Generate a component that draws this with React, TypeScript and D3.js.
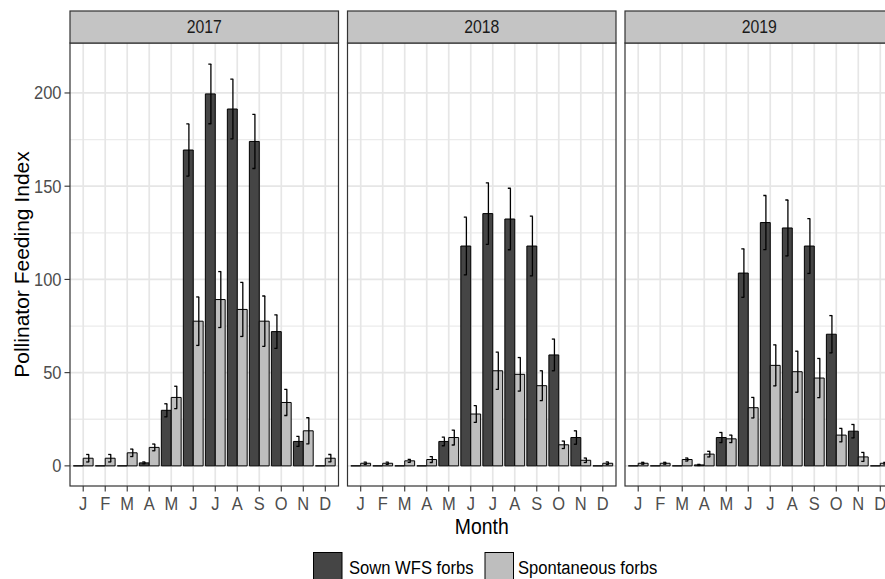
import React from "react";
import * as d3 from "d3";

const months = ["J", "F", "M", "A", "M", "J", "J", "A", "S", "O", "N", "D"];
const years = ["2017", "2018", "2019"];
const seriesNames = ["Sown WFS forbs", "Spontaneous forbs"];
const yTicks = [0, 50, 100, 150, 200];
const yMinor = [25, 75, 125, 175];

const sown2017 = [0, 0, 0, 1.6, 29.8, 169.4, 199.5, 191.4, 174, 72, 13.1, 0];
const sownSe2017 = [0, 0, 0, 0.5, 3.5, 14, 16, 16, 14.5, 9, 2.7, 0];
const spont2017 = [4.1, 4.1, 7, 9.9, 36.7, 77.6, 89.2, 83.9, 77.6, 34, 18.8, 4.1];
const spontSe2017 = [2, 2, 2, 1.8, 6, 13, 15, 14.5, 13.5, 7, 7, 2];

const sown2018 = [0, 0, 0, 0, 13.1, 117.9, 135.3, 132.4, 117.9, 59.5, 15.2, 0];
const sownSe2018 = [0, 0, 0, 0, 2.3, 15.5, 16.5, 16.5, 16, 8.5, 3.6, 0];
const spont2018 = [1.4, 1.4, 2.7, 3.4, 15.2, 27.8, 51, 49.1, 43, 11.3, 3, 1.4];
const spontSe2018 = [0.6, 0.6, 0.8, 1.6, 4, 4.5, 10, 9, 8, 2, 1.2, 0.7];

const sown2019 = [0, 0, 0, 0.5, 15.2, 103.4, 130.5, 127.6, 117.9, 70.6, 18.6, 0];
const sownSe2019 = [0, 0, 0, 0.3, 2.7, 13, 14.5, 15, 14.7, 10, 3.6, 0];
const spont2019 = [1.4, 1.4, 3.4, 6.3, 14.5, 31.2, 53.9, 50.5, 47.1, 16.5, 4.8, 1.4];
const spontSe2019 = [0.5, 0.5, 0.8, 1.5, 2, 5.5, 11, 11, 10.5, 3.6, 2.4, 0.5];

const sownByYear = [sown2017, sown2018, sown2019];
const sownSeByYear = [sownSe2017, sownSe2018, sownSe2019];
const spontByYear = [spont2017, spont2018, spont2019];
const spontSeByYear = [spontSe2017, spontSe2018, spontSe2019];

const W = 885;
const H = 579;
const FONT = "'Liberation Sans', Arial, Helvetica, sans-serif";
const COLORS = ["#454545", "#bebebe"];
const panelLeft = 70;
const panelW = 268.5;
const panelGap = 9;
const stripTop = 11;
const panelTop = 43;
const panelBottom = 486;

export default function App() {
  const y = d3.scaleLinear().domain([-10.8, 226.8]).range([panelBottom, panelTop]);

  const panels = years.map((yr, pi) => {
    const x0 = panelLeft + pi * (panelW + panelGap);
    const x = d3
      .scaleBand<number>()
      .domain(d3.range(months.length))
      .range([x0, x0 + panelW])
      .paddingInner(0)
      .paddingOuter(0.1);
    const step = x.step();
    const inner = d3
      .scaleBand<number>()
      .domain([0, 1])
      .range([-0.45 * step, 0.45 * step])
      .padding(0);
    const seriesVals = [sownByYear[pi], spontByYear[pi]];
    const seriesSe = [sownSeByYear[pi], spontSeByYear[pi]];
    const clipId = `clip${pi}`;
    return (
      <g key={yr}>
        <defs>
          <clipPath id={clipId}>
            <rect x={x0} y={panelTop} width={panelW} height={panelBottom - panelTop} />
          </clipPath>
        </defs>
        <rect x={x0} y={panelTop} width={panelW} height={panelBottom - panelTop} fill="#ffffff" />
        <g clipPath={`url(#${clipId})`}>
          {yMinor.map((t) => (
            <line key={"mn" + t} x1={x0} x2={x0 + panelW} y1={y(t)} y2={y(t)} stroke="#ebebeb" strokeWidth={1.3} />
          ))}
          {yTicks.map((t) => (
            <line key={"mj" + t} x1={x0} x2={x0 + panelW} y1={y(t)} y2={y(t)} stroke="#e6e6e6" strokeWidth={1.7} />
          ))}
          {months.map((m, i) => {
            const cx = (x(i) as number) + x.bandwidth() / 2;
            return <line key={"v" + i} x1={cx} x2={cx} y1={panelTop} y2={panelBottom} stroke="#e6e6e6" strokeWidth={1.7} />;
          })}
          {months.map((m, i) => {
            const cx = (x(i) as number) + x.bandwidth() / 2;
            return seriesVals.map((vals, si) => {
              const bx = cx + (inner(si) as number);
              const bw = inner.bandwidth();
              const v = vals[i];
              const y0 = y(0);
              const y1 = y(v);
              const path = `M${bx},${y0}V${y1}H${bx + bw}V${y0}Z`;
              return (
                <path key={`b${i}-${si}`} d={path} fill={COLORS[si]} stroke="#000" strokeWidth={1} />
              );
            });
          })}
          {months.map((m, i) => {
            const cx = (x(i) as number) + x.bandwidth() / 2;
            return seriesVals.map((vals, si) => {
              const se = seriesSe[si][i];
              if (!(se > 0)) return null;
              const bx = cx + (inner(si) as number) + inner.bandwidth() / 2 + 0.6;
              const v = vals[i];
              const yt = y(v + se);
              const yb = y(Math.max(v - se, 0));
              return (
                <g key={`e${i}-${si}`} stroke="#000" strokeWidth={1.3} fill="none">
                  <line x1={bx} x2={bx} y1={yt} y2={yb} />
                  <line x1={bx - 2.6} x2={bx + 0.4} y1={yt} y2={yt} />
                  <line x1={bx - 2.6} x2={bx + 0.4} y1={yb} y2={yb} />
                </g>
              );
            });
          })}
        </g>
        <rect x={x0} y={panelTop} width={panelW} height={panelBottom - panelTop} fill="none" stroke="#333333" strokeWidth={1.2} />
        <rect x={x0} y={stripTop} width={panelW} height={panelTop - stripTop} fill="#c4c4c4" stroke="#333333" strokeWidth={1.2} />
        <text
          transform={`translate(${x0 + panelW / 2},${(stripTop + panelTop) / 2 + 5.6}) scale(1,1.14)`}
          textAnchor="middle"
          fontSize={15.8}
          fontFamily={FONT}
          fill="#1a1a1a"
        >
          {yr}
        </text>
        {months.map((m, i) => {
          const cx = (x(i) as number) + x.bandwidth() / 2;
          return (
            <g key={"xt" + i}>
              <line x1={cx} x2={cx} y1={panelBottom} y2={panelBottom + 5.5} stroke="#333333" strokeWidth={1.1} />
              <text
                transform={`translate(${cx},${panelBottom + 23.5}) scale(1,1.12)`}
                textAnchor="middle"
                fontSize={16.5}
                fontFamily={FONT}
                fill="#4d4d4d"
              >
                {m}
              </text>
            </g>
          );
        })}
      </g>
    );
  });

  const totalLeft = panelLeft;
  const totalRight = panelLeft + 3 * panelW + 2 * panelGap;
  const centerX = (totalLeft + totalRight) / 2;

  return (
    <div style={{ position: "absolute", left: 0, top: 0, width: W, height: H, overflow: "hidden", background: "#fff" }}>
      <svg width={W} height={H} viewBox={`0 0 ${W} ${H}`} style={{ display: "block" }}>
        <rect x={0} y={0} width={W} height={H} fill="#ffffff" />
        {panels}
        {yTicks.map((t) => (
          <g key={"yt" + t}>
            <line x1={panelLeft - 5.5} x2={panelLeft} y1={y(t)} y2={y(t)} stroke="#333333" strokeWidth={1.1} />
            <text
              transform={`translate(${panelLeft - 8.5},${y(t) + 6.5}) scale(1,1.12)`}
              textAnchor="end"
              fontSize={16.5}
              fontFamily={FONT}
              fill="#4d4d4d"
            >
              {t}
            </text>
          </g>
        ))}
        <text
          transform={`translate(${28.5},${(panelTop + panelBottom) / 2}) rotate(-90)`}
          textAnchor="middle"
          fontSize={21}
          fontFamily={FONT}
          fill="#000"
        >
          Pollinator Feeding Index
        </text>
        <text
          transform={`translate(${centerX},${534}) scale(1,1.12)`}
          textAnchor="middle"
          fontSize={19.4}
          fontFamily={FONT}
          fill="#000"
        >
          Month
        </text>
        <g>
          <rect x={313.5} y={552.5} width={28.5} height={30} fill={COLORS[0]} stroke="#000" strokeWidth={1} />
          <text transform={`translate(349,574) scale(1,1.12)`} fontSize={16.6} fontFamily={FONT} fill="#000">
            {seriesNames[0]}
          </text>
          <rect x={485} y={552.5} width={28.5} height={30} fill={COLORS[1]} stroke="#000" strokeWidth={1} />
          <text transform={`translate(518,574) scale(1,1.12)`} fontSize={16.6} fontFamily={FONT} fill="#000">
            {seriesNames[1]}
          </text>
        </g>
      </svg>
    </div>
  );
}
